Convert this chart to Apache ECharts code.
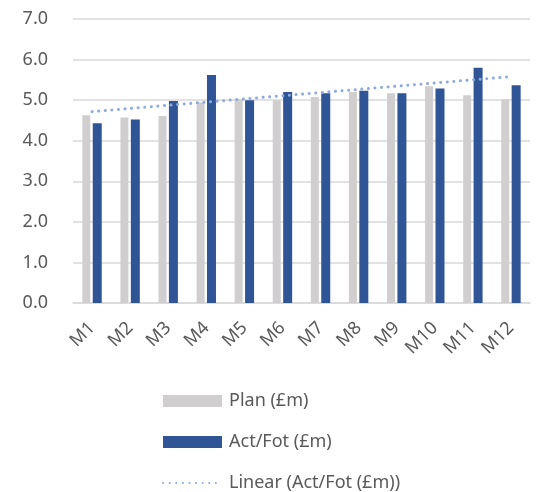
<!DOCTYPE html>
<html>
<head>
<meta charset="utf-8">
<script src="https://cdn.jsdelivr.net/npm/echarts@6/dist/echarts.min.js"></script>
<style>
  html, body { margin: 0; padding: 0; background: #fff; }
  #chart { width: 539px; height: 492px; }
</style>
</head>
<body>
<div id="chart"></div>
<script>
// Monthly plan vs actual/forecast, in £m
const months = ['M1', 'M2', 'M3', 'M4', 'M5', 'M6', 'M7', 'M8', 'M9', 'M10', 'M11', 'M12'];
const planValues = [4.63, 4.57, 4.61, 4.95, 5.02, 5.00, 5.08, 5.20, 5.17, 5.34, 5.12, 5.02];
const actFotValues = [4.43, 4.52, 4.98, 5.62, 5.00, 5.20, 5.17, 5.23, 5.17, 5.29, 5.80, 5.37];
const yTicks = { min: 0, max: 7, interval: 1 };

// Least-squares linear trend of the Act/Fot series
function linearTrend(values) {
  const n = values.length;
  const xs = values.map((_, i) => i + 1);
  const mx = xs.reduce((a, b) => a + b, 0) / n;
  const my = values.reduce((a, b) => a + b, 0) / n;
  let sxy = 0, sxx = 0;
  for (let i = 0; i < n; i++) {
    sxy += (xs[i] - mx) * (values[i] - my);
    sxx += (xs[i] - mx) * (xs[i] - mx);
  }
  const slope = sxy / sxx;
  return xs.map(x => +(my + slope * (x - mx)).toFixed(4));
}
const trendValues = linearTrend(actFotValues);

const textColor = '#595959';
const fontFamily = 'Noto Sans, Liberation Sans, sans-serif';

const chart = echarts.init(document.getElementById('chart'), null, { renderer: 'canvas' });
chart.setOption({
  animation: false,
  textStyle: { fontFamily: fontFamily },
  grid: { left: 73, right: 9, top: 19, bottom: 189, containLabel: false },
  xAxis: {
    type: 'category',
    data: months,
    axisLine: { lineStyle: { color: '#d9d9d9', width: 1.5 } },
    axisTick: { show: false },
    axisLabel: { rotate: 45, color: textColor, fontSize: 18, margin: 22, fontFamily: fontFamily }
  },
  yAxis: {
    type: 'value',
    min: yTicks.min,
    max: yTicks.max,
    interval: yTicks.interval,
    axisLine: { show: false },
    axisTick: { show: false },
    splitLine: { lineStyle: { color: '#d9d9d9', width: 1.5 } },
    axisLabel: {
      color: textColor, fontSize: 18, margin: 25, fontFamily: fontFamily,
      formatter: v => v.toFixed(1)
    }
  },
  legend: {
    orient: 'vertical',
    left: 162,
    top: 391,
    height: 120,
    padding: 0,
    itemWidth: 59,
    itemHeight: 12,
    itemGap: 21,
    textStyle: { color: textColor, fontSize: 18, lineHeight: 20, fontFamily: fontFamily, padding: [0, 0, 0, 2] },
    data: [
      { name: 'Plan (£m)', icon: 'rect' },
      { name: 'Act/Fot (£m)', icon: 'rect' },
      { name: 'Linear (Act/Fot (£m))', itemStyle: { opacity: 0 } }
    ]
  },
  series: [
    {
      name: 'Plan (£m)',
      type: 'bar',
      data: planValues,
      barWidth: 8,
      barGap: '30%',
      itemStyle: { color: '#d0cece' }
    },
    {
      name: 'Act/Fot (£m)',
      type: 'bar',
      data: actFotValues,
      barWidth: 9,
      itemStyle: { color: '#2f5597' }
    },
    {
      name: 'Linear (Act/Fot (£m))',
      type: 'line',
      data: trendValues,
      symbol: 'circle',
      showSymbol: false,
      z: 5,
      lineStyle: { color: '#8faadc', width: 3, type: [0.1, 6.5], cap: 'round' },
      itemStyle: { color: '#8faadc' }
    }
  ]
});
</script>
</body>
</html>
